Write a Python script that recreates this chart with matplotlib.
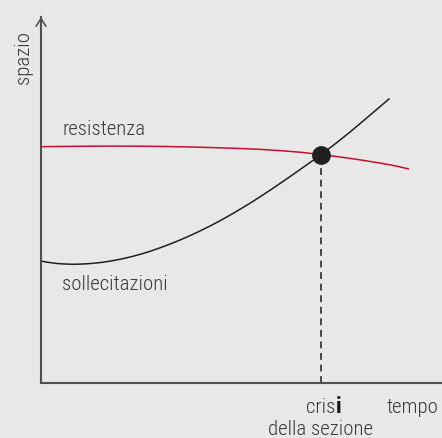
import matplotlib
matplotlib.use("Agg")
import matplotlib.pyplot as plt
from matplotlib import font_manager

# ---- data (arbitrary units) ----
time_sol = [0, 5, 10, 15, 20, 26, 32, 40, 50, 60, 70, 80, 90, 100, 110, 120, 130, 140, 150, 160,
            170, 180, 190, 200, 210, 220, 230, 240, 250, 260, 270, 280, 290, 300, 310, 320, 334, 348]
sollecitazioni = [122, 121, 120.3, 119.6, 119.2, 118.9, 118.7, 118.9, 119.5, 120.5, 122, 123.9, 126.2,
                  128.9, 132.0, 135.5, 139.3, 143.4, 147.8, 152.5, 157.5, 162.8, 168.4, 174.3, 180.4,
                  186.8, 193.4, 200.2, 207.1, 214.1, 221.2, 228.4, 235.9, 243.7, 251.8, 260.2, 272.1, 284]
time_res = [0, 25, 50, 75, 100, 125, 150, 175, 200, 220, 240, 260, 280, 300, 320, 340, 355, 368]
resistenza = [236.3, 236.6, 236.8, 236.9, 236.8, 236.5, 236.0, 235.3, 234.5, 233.6, 232.3, 230.7,
              228.4, 225.9, 223.0, 219.8, 217.0, 214]
crisi_t, crisi_s = 280, 228.4
labels = {"res": "resistenza", "sol": "sollecitazioni", "y": "spazio",
          "x": "tempo", "crisi": "cris", "crisi_i": "i", "sezione": "della sezione"}

avail = {f.name for f in font_manager.fontManager.ttflist}
fam = 'DejaVu Sans'
for cand in ["Roboto Condensed", "Archivo Narrow", "PT Sans Narrow", "Fira Sans Condensed",
             "IBM Plex Sans Condensed", "Barlow Semi Condensed", "Liberation Sans Narrow"]:
    if cand in avail:
        fam = cand
        break
plt.rcParams['font.family'] = [fam, 'DejaVu Sans']
TXT = '#3a3a3c'
FS = 15
WT = 300

W, H = 442, 438
fig = plt.figure(figsize=(W / 100, H / 100), dpi=100, facecolor='#e8e8e9')
ax = fig.add_axes([41 / W, (H - 383) / H, (W - 41) / W, (383 - 17) / H])
ax.set_facecolor('none')
ax.set_xlim(0, 401)
ax.set_ylim(0, 366)
for s in ['top', 'right']:
    ax.spines[s].set_visible(False)
for s in ['left', 'bottom']:
    ax.spines[s].set_color('#505052')
    ax.spines[s].set_linewidth(1.5)
ax.set_xticks([])
ax.set_yticks([])
ax.annotate('', xy=(0, 366), xytext=(0, 330),
            arrowprops=dict(arrowstyle='->,head_length=0.55,head_width=0.35',
                            color='#505052', lw=1.2, shrinkA=0, shrinkB=0),
            annotation_clip=False)

ax.plot(time_res, resistenza, color='#c8102e', lw=1.1, solid_capstyle='butt')
ax.plot(time_sol, sollecitazioni, color='#231f20', lw=1.1)
ax.plot([crisi_t, crisi_t], [0, crisi_s], color='#3a3a3c', lw=1.3,
        linestyle=(0, (3.8, 2.6)))
ax.plot([crisi_t], [crisi_s], 'o', color='#231f20', markersize=12.5, zorder=5)

kw = dict(fontsize=FS, color=TXT, fontweight=WT)
ax.text(21, 248, labels["res"], va='baseline', ha='left', **kw)
ax.text(21, 93, labels["sol"], va='baseline', ha='left', **kw)
ax.text(-18, 325, labels["y"], rotation=90, va='center', ha='center', clip_on=False, **kw)
ax.text(crisi_t + 14, -30, labels["crisi"], va='baseline', ha='right', clip_on=False, **kw)
ax.text(crisi_t + 14.5, -30, labels["crisi_i"], fontsize=FS + 1, color='#151515', va='baseline', ha='left',
        fontweight='black', clip_on=False)
ax.text(crisi_t, -52, labels["sezione"], va='baseline', ha='center', clip_on=False, **kw)
ax.text(346, -30, labels["x"], va='baseline', ha='left', clip_on=False, **kw)

fig.savefig('out.png', dpi=100, facecolor=fig.get_facecolor())
